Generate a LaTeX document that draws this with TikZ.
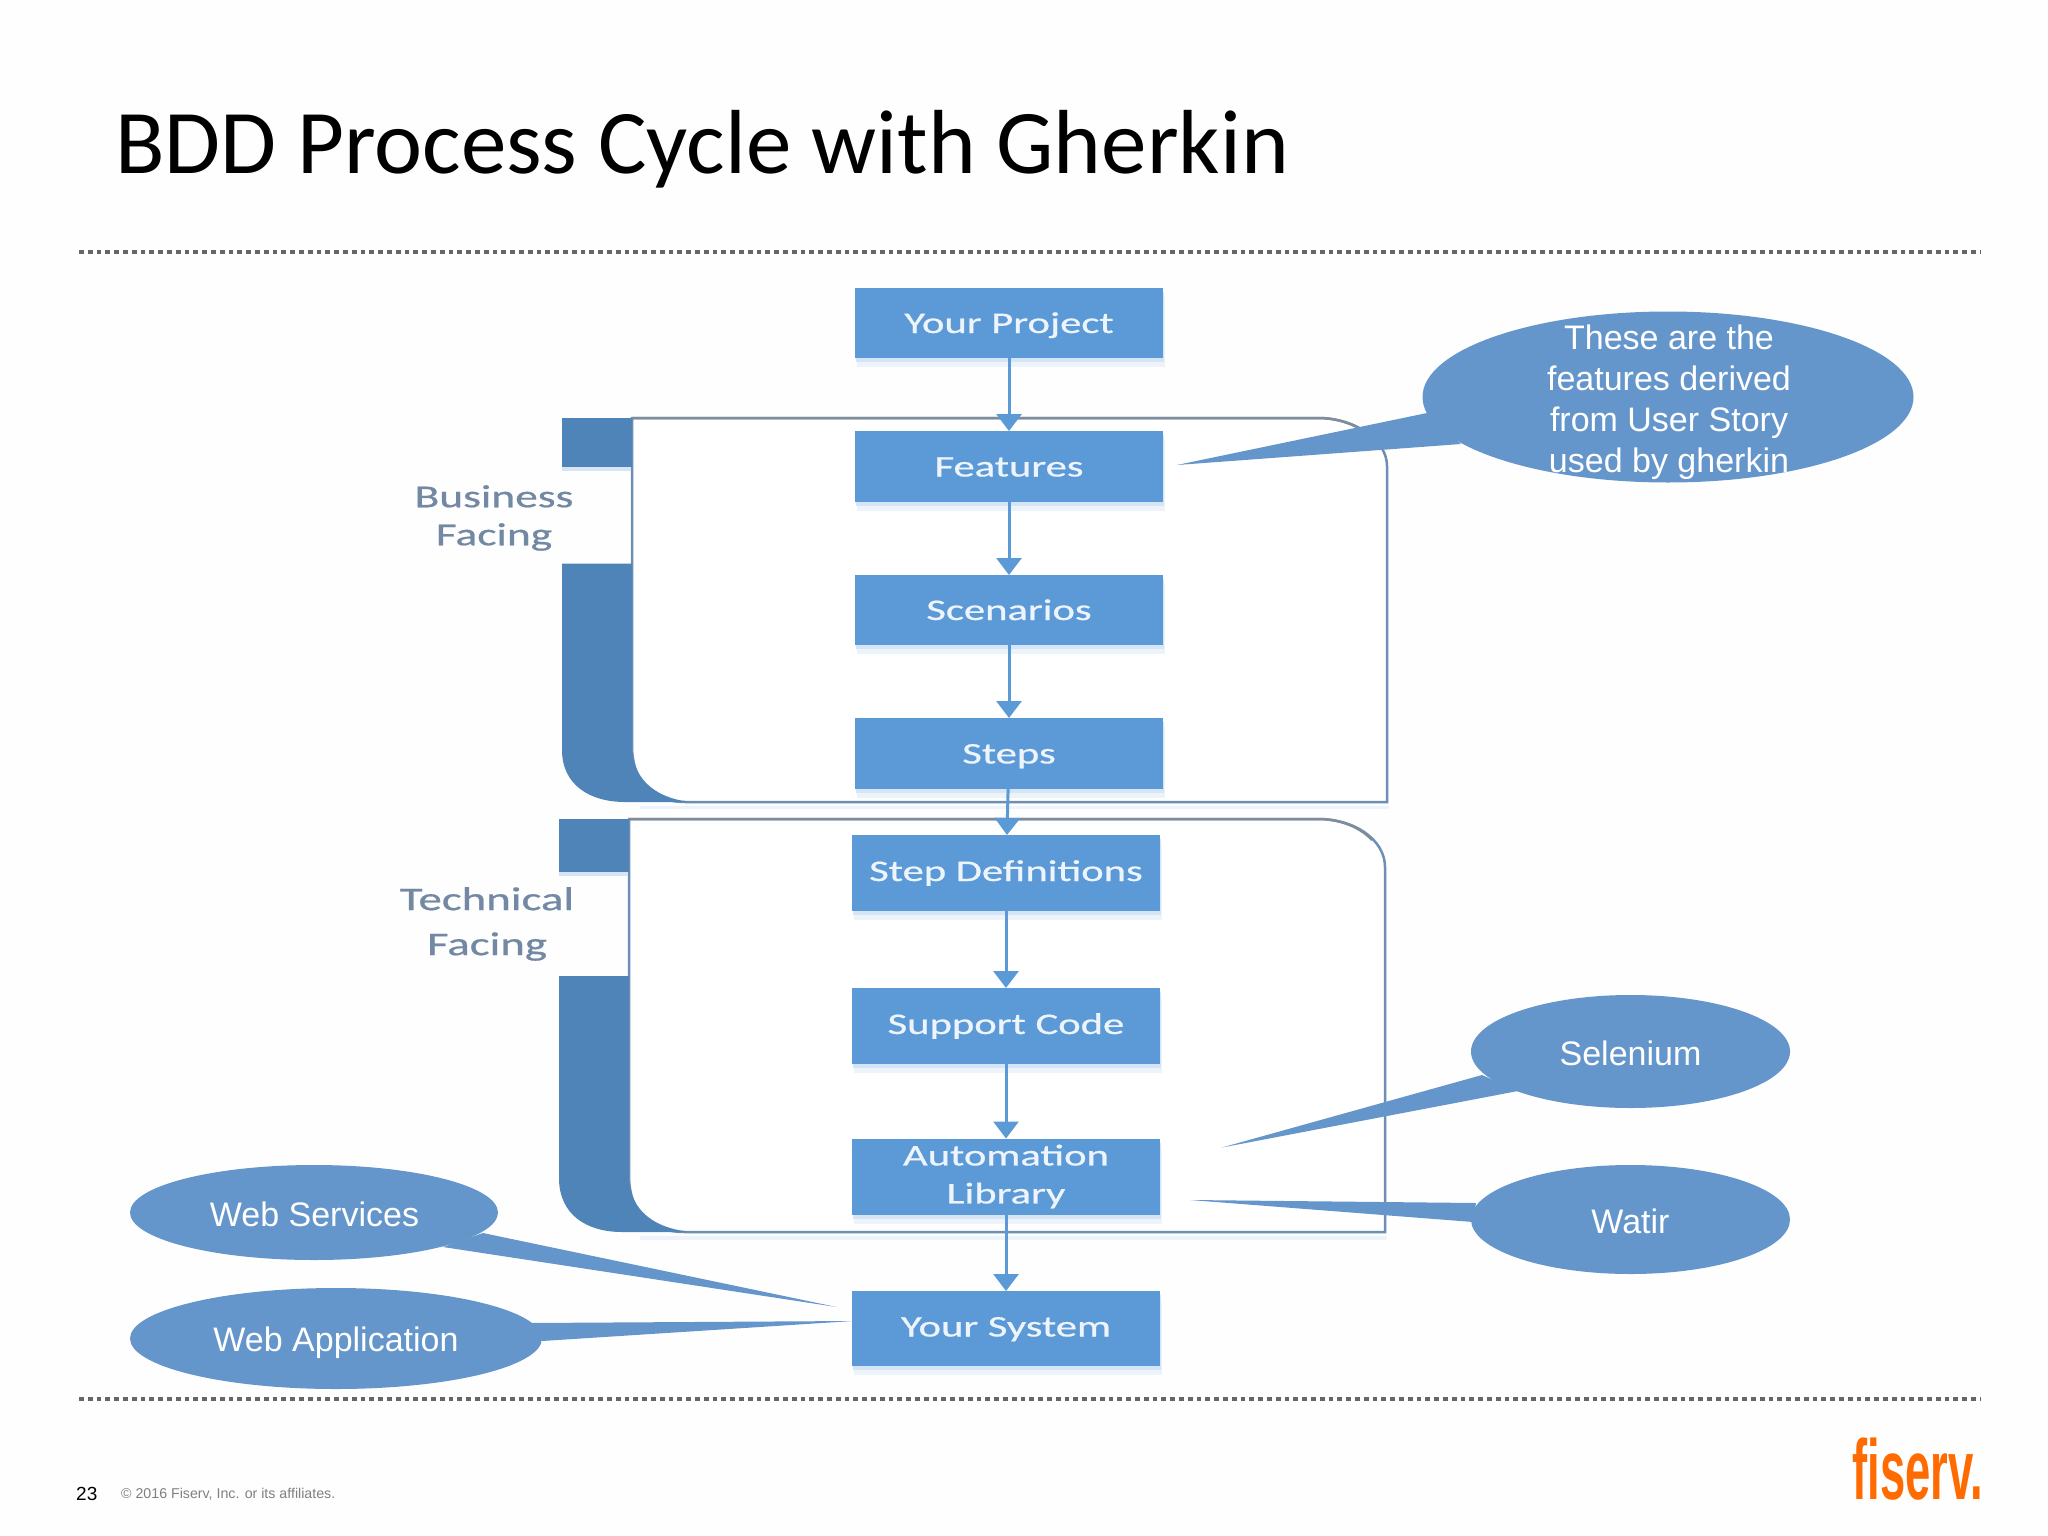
\documentclass[tikz,border=0pt]{standalone}
\usepackage{graphicx}
\usepackage{fontspec}
\setmainfont{Carlito}
\newfontfamily\arialf{Liberation Sans}
\newfontfamily\softbold[FakeBold=0.6]{Carlito}
\usetikzlibrary{shapes.geometric,arrows.meta,shadows}
\definecolor{pagewhite}{HTML}{FEFEFE}
\definecolor{boxblue}{HTML}{5B9AD6}
\definecolor{boxshadow}{HTML}{D6E5F5}
\definecolor{boxshadowfar}{HTML}{EDF3FA}
\definecolor{barblue}{HTML}{4F84B9}
\definecolor{frameline}{HTML}{6D8FB3}
\definecolor{frametop}{HTML}{808C99}
\definecolor{callblue}{HTML}{6596CB}
\definecolor{labelgray}{HTML}{7389A3}
\definecolor{boxtext}{HTML}{EEF4FB}
\definecolor{dotgray}{HTML}{666666}
\definecolor{fisorange}{HTML}{FF6B00}
\newcommand{\stretched}[1]{\scalebox{1.42}[1]{#1}}
\tikzset{
  flowbox/.style={rectangle,fill=boxblue,text=boxtext,minimum width=308pt,inner sep=0pt,outer sep=0pt,align=center,
    general shadow={shadow xshift=2pt,shadow yshift=-9pt,fill=boxshadowfar},
    general shadow={shadow xshift=1pt,shadow yshift=-4pt,fill=boxshadow},
    font=\softbold\fontsize{30}{38}\selectfont},
  upperline/.style={text height=24pt,text depth=4pt},
  lowerline/.style={text height=22pt,text depth=6pt},
  flowarrow/.style={draw=boxblue,line width=3pt,-{Triangle[length=17pt,width=25pt]}},
  bar/.style={fill=barblue,draw=none},
  frameedge/.style={draw=frameline,line width=2.5pt},
  frametopline/.style={draw=frametop,line width=2.5pt},
  sidelabel/.style={text=labelgray,align=center,inner sep=0pt,font=\softbold\fontsize{32}{38}\selectfont},
  bubble/.style={ellipse,fill=callblue,inner sep=0pt,outer sep=0pt},
  bubbletext/.style={text=white,align=center,inner sep=0pt,font=\arialf\fontsize{34}{41}\selectfont},
  tail/.style={fill=callblue,draw=none},
  rulerline/.style={draw=dotgray,line width=4.7pt,dash pattern=on 4.7pt off 4.1pt}
}
\begin{document}
\begin{tikzpicture}[x=1pt,y=-1pt]
\useasboundingbox (0,0) rectangle (2048,1536);
\fill[pagewhite] (0,0) rectangle (2048,1536);
% title
\node[anchor=base west,inner sep=0pt,font=\fontsize{91}{100}\selectfont] (title) at (115,173) {BDD Process Cycle with Gherkin};
\coordinate (r1a) at (79,252); \coordinate (r1b) at (1980,252);
\coordinate (r2a) at (79,1399); \coordinate (r2b) at (1980,1399);
\draw[rulerline] (r1a) -- (r1b);
\draw[rulerline] (r2a) -- (r2b);
% business frame
\fill[boxshadowfar] (640,806) rectangle (1389,809);
\draw[frameedge,fill=white] (632,418) -- (1318,418) .. controls (1355,418) and (1387,440) .. (1387,466) -- (1387,802) -- (685,802) .. controls (655,802) and (632,785) .. (632,745) -- cycle;
\draw[frametopline] (632,418) -- (1318,418) .. controls (1340,418) and (1360,426) .. (1372,438);
\fill[bar] (562,418) rectangle (632,467);
\fill[boxshadow] (562,467) rectangle (631,471);
\fill[bar] (562,563.5) -- (632,563.5) -- (632,745) .. controls (632,775) and (650,797) .. (690,802) -- (625,802) .. controls (590,802) and (562,785) .. (562,750) -- cycle;
% technical frame
\fill[boxshadowfar] (640,1236) rectangle (1387,1240);
\draw[frameedge,fill=white] (629,819) -- (1318,819) .. controls (1355,819) and (1385,840) .. (1385,867) -- (1385,1232) -- (685,1232) .. controls (652,1232) and (629,1215) .. (629,1175) -- cycle;
\draw[frametopline] (629,819) -- (1318,819) .. controls (1340,819) and (1360,827) .. (1372,840);
\fill[bar] (559,819) rectangle (629,871.5);
\fill[boxshadow] (559,871.5) rectangle (628,876);
\fill[bar] (559,976) -- (629,976) -- (629,1175) .. controls (629,1205) and (647,1227) .. (690,1232) -- (622,1232) .. controls (587,1232) and (559,1215) .. (559,1178) -- cycle;
% boxes
\node[flowbox,upperline,minimum height=70pt] (proj) at (1009,323) {\stretched{Your Project}};
\node[flowbox,upperline,minimum height=71pt] (feat) at (1009,466.5) {\stretched{Features}};
\node[flowbox,upperline,minimum height=70pt] (scen) at (1009,610) {\stretched{Scenarios}};
\node[flowbox,upperline,minimum height=71pt] (steps) at (1009,753.5) {\stretched{Steps}};
\node[flowbox,lowerline,minimum height=76pt] (sdef) at (1006,873) {\stretched{Step Definitions}};
\node[flowbox,lowerline,minimum height=76pt] (supp) at (1006,1026) {\stretched{Support Code}};
\node[flowbox,minimum height=76pt] (auto) at (1006,1176.5) {\stretched{Automation}\\\stretched{Library}};
\node[flowbox,lowerline,minimum height=75pt] (sys) at (1006,1328.5) {\stretched{Your System}};
% arrows
\draw[flowarrow] (proj) -- (feat);
\draw[flowarrow] (feat) -- (scen);
\draw[flowarrow] (scen) -- (steps);
\draw[flowarrow] (steps) -- (sdef);
\draw[flowarrow] (sdef) -- (supp);
\draw[flowarrow] (supp) -- (auto);
\draw[flowarrow] (auto) -- (sys);
% side labels
\node[sidelabel] (biz) at (494,518) {\stretched{Business}\\\stretched{Facing}};
\node[sidelabel,font=\softbold\fontsize{33}{45}\selectfont] (tech) at (487,924) {\stretched{Technical}\\\stretched{Facing}};
% callouts
\node[bubble,minimum width=491pt,minimum height=171pt] (cfeat) at (1668,397) {};
\node[bubbletext] (cfeatt) at (1669,402) {These are the\\features derived\\from User Story\\used by gherkin};
\coordinate (cfeattip) at (1177,465);
\fill[tail] (1427,413) -- (cfeattip) -- (1461,444) -- cycle;
\node[bubble,minimum width=319pt,minimum height=113pt] (csel) at (1630.5,1051.5) {};
\node[bubbletext] (cselt) at (1630.5,1053) {Selenium};
\coordinate (cseltip) at (1222,1147.5);
\fill[tail] (1482,1075) -- (cseltip) -- (1518,1091) -- cycle;
\node[bubble,minimum width=319pt,minimum height=109pt] (cwat) at (1630.5,1219.5) {};
\node[bubbletext] (cwatt) at (1630.5,1221) {Watir};
\coordinate (cwattip) at (1190,1200);
\fill[tail] (1476,1203) -- (cwattip) -- (1473,1222) -- cycle;
\node[bubble,minimum width=368pt,minimum height=95pt] (cweb) at (314,1212.5) {};
\node[bubbletext] (cwebt) at (314.5,1214) {Web Services};
\coordinate (cwebtip) at (836.5,1307);
\fill[tail] (483,1233) -- (cwebtip) -- (443,1247) -- cycle;
\node[bubble,minimum width=412pt,minimum height=101pt] (capp) at (336,1338.5) {};
\node[bubbletext] (cappt) at (336,1342.5) {Web Application};
\coordinate (capptip) at (853,1321);
\fill[tail] (530,1323) -- (capptip) -- (542,1341) -- cycle;
% footer
\node[anchor=base west,inner sep=0pt,font=\arialf\fontsize{19}{22}\selectfont] (pnum) at (76,1500) {23};
\node[anchor=base west,inner sep=0pt,text=gray,font=\arialf\fontsize{14.2}{16}\selectfont] (copy) at (121,1498) {© 2016 Fiserv, Inc. or its affiliates.};
\node[anchor=base east,inner sep=0pt,text=fisorange,font=\arialf\fontsize{85}{90}\selectfont\bfseries] (logo) at (1983,1499) {\scalebox{0.534}[1]{fiserv.}};
\end{tikzpicture}
\end{document}
